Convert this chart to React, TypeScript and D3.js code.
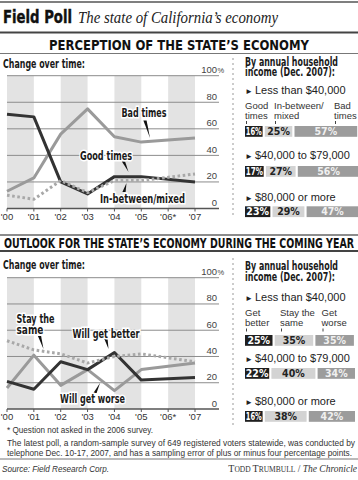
import React from 'react';
import * as d3 from 'd3';

// ---------- DATA ----------
const years = ["'00", "'01", "'02", "'03", "'04", "'05", "'06*", "'07"];
const goodTimes = [71, 69, 20, 11, 24, 24, null, 20];
const badTimes = [13, 23, 56, 75, 54, 50, null, 53];
const mixedTimes = [10, 7, 21, 12, 21, 21, null, 26];
const getBetter = [21, 15, 36, 30, 43, 22, null, 24];
const getWorse = [16, 41, 18, 30, 14, 30, null, 35];
const staySame = [52, 45, 42, 35, 40, 42, null, 36];
const yTicks = [0, 20, 40, 60, 80, 100];

const incomeGroups = ['Less than $40,000', '$40,000 to $79,000', '$80,000 or more'];
const perceptionByIncome = [[16, 25, 57], [17, 27, 56], [23, 29, 47]];
const outlookByIncome = [[25, 35, 35], [22, 40, 34], [16, 38, 42]];
const perceptionCols = [['Good', 'times'], ['In-between/', 'mixed'], ['Bad', 'times']];
const outlookCols = [['Get', 'better'], ['Stay the', 'same'], ['Get', 'worse']];

// ---------- STYLE ----------
const COND = "'Liberation Sans Narrow','DejaVu Sans Condensed','Roboto Condensed','Arial Narrow',Roboto,sans-serif";
const SANS = "'Liberation Sans',Arial,Helvetica,sans-serif";
const SERIF = "'Liberation Serif','Times New Roman',serif";
const DARK = '#333333';
const MID = '#9a9a9a';
const DOT = '#a8a8a8';
const BAR_COLORS = ['#1f1f1f', '#d3d3d3', '#9c9c9c'];
const BAR_TEXT = ['#ffffff', '#222222', '#f0f0f0'];

const x = d3.scaleLinear().domain([0, years.length - 1]).range([7, 195]);
const yTopScale = d3.scaleLinear().domain([0, 100]).range([208.5, 75.7]);
const yBotScale = d3.scaleLinear().domain([0, 100]).range([409, 277.7]);
const barScale = d3.scaleLinear().domain([0, 100]).range([0, 110]);

function pathFor(values: (number | null)[], y: d3.ScaleLinear<number, number>) {
  const pts = values
    .map((v, i) => [i, v] as [number, number | null])
    .filter((d) => d[1] != null) as [number, number][];
  const line = d3.line<[number, number]>().x((d) => x(d[0])).y((d) => y(d[1]));
  return line(pts) || '';
}

function Chart({ y, series }: { y: d3.ScaleLinear<number, number>; series: { values: (number | null)[]; color: string; dotted?: boolean }[] }) {
  const y0 = y(0);
  const y100 = y(100);
  const bands = d3.range(0, years.length - 1, 2);
  return (
    <g>
      {bands.map((i) => (
        <rect key={i} x={x(i)} y={y100} width={x(i + 1) - x(i)} height={y0 - y100} fill="#e3e3e3" />
      ))}
      {yTicks.map((t) => (
        <line key={t} x1={7} x2={219} y1={y(t)} y2={y(t)} stroke={t === 0 ? '#555' : '#8c8c8c'} strokeWidth={t === 0 ? 1.3 : 1} />
      ))}
      {yTicks.map((t) => (
        <text key={'l' + t} x={217} y={y(t) - 2.5} textAnchor="end" fontFamily={SANS} fontSize={9.5} fill="#444">
          {t}
        </text>
      ))}
      <text x={217.5} y={y(100) - 2.5} fontFamily={SANS} fontSize={7.5} fill="#444">%</text>
      {years.map((lab, i) => (
        <g key={lab}>
          <line x1={x(i)} x2={x(i)} y1={y0} y2={y0 + 3} stroke="#555" strokeWidth={1} />
          <text x={x(i)} y={y0 + 11} textAnchor="middle" fontFamily={SANS} fontSize={9.5} fill="#333">
            {lab}
          </text>
        </g>
      ))}
      {series.map((s, k) => (
        <path
          key={k}
          d={pathFor(s.values, y)}
          fill="none"
          stroke={s.color}
          strokeWidth={3}
          strokeDasharray={s.dotted ? '2.6 2.6' : undefined}
          strokeLinejoin="round"
        />
      ))}
    </g>
  );
}

function Label({ x: lx, y: ly, children, len }: { x: number; y: number; children: React.ReactNode; len?: number }) {
  return (
    <text
      x={lx}
      y={ly}
      fontFamily={COND}
      fontWeight="bold"
      fontSize={12}
      fill="#1a1a1a"
      stroke="#fff"
      strokeWidth={3}
      paintOrder="stroke"
      textLength={len}
      lengthAdjust="spacingAndGlyphs"
    >
      {children}
    </text>
  );
}

function Pointer({ from, to }: { from: [number, number]; to: [number, number] }) {
  const [fx, fy] = from;
  const [tx, ty] = to;
  const pts = `${fx - 1.6},${fy} ${fx + 1.6},${fy} ${tx},${ty}`;
  return <polygon points={pts} fill="#111" />;
}

function BarPanel({
  top,
  data,
  cols,
  colX,
  labelYs,
  colYs,
  barYs,
}: {
  top: number;
  data: number[][];
  cols: string[][];
  colX: number[];
  labelYs: number[];
  colYs: number[];
  barYs: number[];
}) {
  const x0 = 245;
  const gap = 2.2;
  return (
    <g>
      <text x={x0} y={top} fontFamily={COND} fontWeight="bold" fontSize={12} fill="#1a1a1a" textLength={93} lengthAdjust="spacingAndGlyphs">
        By annual household
      </text>
      <text x={x0} y={top + 10.5} fontFamily={COND} fontWeight="bold" fontSize={12} fill="#1a1a1a" textLength={90} lengthAdjust="spacingAndGlyphs">
        income (Dec. 2007):
      </text>
      {incomeGroups.map((g, r) => (
        <g key={g}>
          <text x={x0} y={labelYs[r]} fontFamily={SANS} fontSize={8} fill="#222">►</text>
          <text x={x0 + 10} y={labelYs[r]} fontFamily={SANS} fontSize={11} fill="#222">
            {g}
          </text>
        </g>
      ))}
      {cols.map((c, i) => (
        <g key={i}>
          <text x={colX[i]} y={colYs[0]} fontFamily={SANS} fontSize={9.5} fill="#333">{c[0]}</text>
          <text x={colX[i]} y={colYs[1]} fontFamily={SANS} fontSize={9.5} fill="#333">{c[1]}</text>
          <line x1={colX[i] + 1.5} x2={colX[i] + 1.5} y1={colYs[1] + 2.5} y2={colYs[1] + 5.5} stroke="#444" strokeWidth={1} />
        </g>
      ))}
      {data.map((row, r) => {
        let cx = x0;
        return (
          <g key={r}>
            {row.map((v, i) => {
              const w = barScale(v);
              const sx = cx;
              cx += w + gap;
              const narrow = w < 20;
              return (
                <g key={i}>
                  <rect x={sx} y={barYs[r]} width={w} height={10.8} fill={BAR_COLORS[i]} />
                  <text
                    x={sx + w / 2}
                    y={barYs[r] + 9}
                    textAnchor="middle"
                    fontFamily={COND}
                    fontWeight="bold"
                    fontSize={10.5}
                    fill={BAR_TEXT[i]}
                    textLength={narrow ? w - 1.5 : undefined}
                    lengthAdjust="spacingAndGlyphs"
                  >
                    {v}%
                  </text>
                </g>
              );
            })}
          </g>
        );
      })}
    </g>
  );
}

export default function App() {
  return (
    <svg width={358} height={480} viewBox="0 0 358 480" style={{ position: 'absolute', left: 0, top: 0, background: '#fff' }}>
      <rect x={0} y={0} width={358} height={480} fill="#fff" />
      {/* Title */}
      <line x1={0} x2={358} y1={2} y2={2} stroke="#555" strokeWidth={1.5} />
      <text x={3} y={22.5} fontFamily={COND} fontWeight="bold" fontSize={18} fill="#111" stroke="#111" strokeWidth={0.4} textLength={69} lengthAdjust="spacingAndGlyphs">
        Field Poll
      </text>
      <text x={78} y={22.5} fontFamily={SERIF} fontStyle="italic" fontSize={17} fill="#222" textLength={200} lengthAdjust="spacingAndGlyphs">
        The state of California’s economy
      </text>
      <line x1={0} x2={358} y1={32.5} y2={32.5} stroke="#444" strokeWidth={2} />
      <text x={179} y={50} textAnchor="middle" fontFamily={COND} fontWeight="bold" fontSize={13.5} fill="#111" textLength={260} lengthAdjust="spacingAndGlyphs">
        PERCEPTION OF THE STATE’S ECONOMY
      </text>
      <line x1={0} x2={358} y1={53.5} y2={53.5} stroke="#777" strokeWidth={1} />

      {/* Top chart */}
      <text x={3} y={68} fontFamily={COND} fontWeight="bold" fontSize={12} fill="#1a1a1a" textLength={82} lengthAdjust="spacingAndGlyphs">
        Change over time:
      </text>
      <Chart
        y={yTopScale}
        series={[
          { values: badTimes, color: MID },
          { values: goodTimes, color: DARK },
          { values: mixedTimes, color: DOT, dotted: true },
        ]}
      />
      <Pointer from={[145, 120.5]} to={[150, 138]} />
      <Label x={121.5} y={117} len={45}>Bad times</Label>
      <Pointer from={[123.5, 161.5]} to={[128.5, 172]} />
      <Label x={80} y={159.5} len={52}>Good times</Label>
      <Pointer from={[124, 192]} to={[126.5, 183]} />
      <Label x={100} y={202.5} len={85}>In-between/mixed</Label>

      <line x1={233} x2={233} y1={58} y2={218} stroke="#999" strokeWidth={1} strokeDasharray="2 3" />
      <BarPanel
        top={65.5}
        data={perceptionByIncome}
        cols={perceptionCols}
        colX={[245, 274, 334]}
        labelYs={[94, 159, 200.5]}
        colYs={[108.5, 118.5]}
        barYs={[126, 166, 206.3]}
      />

      {/* Bottom section */}
      <line x1={0} x2={358} y1={235} y2={235} stroke="#666" strokeWidth={1.5} />
      <text x={179} y={248} textAnchor="middle" fontFamily={COND} fontWeight="bold" fontSize={13.5} fill="#111" textLength={350} lengthAdjust="spacingAndGlyphs">
        OUTLOOK FOR THE STATE’S ECONOMY DURING THE COMING YEAR
      </text>
      <line x1={0} x2={358} y1={251} y2={251} stroke="#444" strokeWidth={2} />
      <text x={3} y={268.5} fontFamily={COND} fontWeight="bold" fontSize={12} fill="#1a1a1a" textLength={82} lengthAdjust="spacingAndGlyphs">
        Change over time:
      </text>
      <Chart
        y={yBotScale}
        series={[
          { values: getWorse, color: MID },
          { values: getBetter, color: DARK },
          { values: staySame, color: DOT, dotted: true },
        ]}
      />
      <Pointer from={[39.5, 336]} to={[43.5, 349]} />
      <Label x={16.5} y={322.5} len={38}>Stay the</Label>
      <Label x={16.5} y={334} len={27}>same</Label>
      <Pointer from={[106, 339]} to={[108.5, 349]} />
      <Label x={72.5} y={337.5} len={67}>Will get better</Label>
      <Pointer from={[95, 393]} to={[100, 383]} />
      <Label x={60} y={403} len={65}>Will get worse</Label>

      <line x1={233} x2={233} y1={258} y2={425} stroke="#999" strokeWidth={1} strokeDasharray="2 3" />
      <BarPanel
        top={270}
        data={outlookByIncome}
        cols={outlookCols}
        colX={[245, 280, 321.5]}
        labelYs={[300.5, 362, 404.5]}
        colYs={[316, 326]}
        barYs={[335, 368, 411]}
      />

      {/* Footer */}
      <text x={7} y={433} fontFamily={SANS} fontSize={9.5} fill="#333" textLength={146} lengthAdjust="spacingAndGlyphs">
        * Question not asked in the 2006 survey.
      </text>
      <text x={7} y={446} fontFamily={SANS} fontSize={9.5} fill="#333" textLength={348} lengthAdjust="spacingAndGlyphs">
        The latest poll, a random-sample survey of 649 registered voters statewide, was conducted by
      </text>
      <text x={7} y={455.5} fontFamily={SANS} fontSize={9.5} fill="#333" textLength={345} lengthAdjust="spacingAndGlyphs">
        telephone Dec. 10-17, 2007, and has a sampling error of plus or minus four percentage points.
      </text>
      <line x1={0} x2={358} y1={459} y2={459} stroke="#777" strokeWidth={1} />
      <text x={2} y={471.5} fontFamily={SANS} fontStyle="italic" fontSize={9.5} fill="#333" textLength={107} lengthAdjust="spacingAndGlyphs">
        Source: Field Research Corp.
      </text>
      <text x={357} y={471.5} textAnchor="end" fontFamily={SERIF} fontSize={9.5} fill="#333">
        <tspan fontSize={10}>T</tspan>
        <tspan fontSize={7.5}>ODD </tspan>
        <tspan fontSize={10}>T</tspan>
        <tspan fontSize={7.5}>RUMBULL</tspan>
        <tspan> / </tspan>
        <tspan fontStyle="italic">The Chronicle</tspan>
      </text>
    </svg>
  );
}
